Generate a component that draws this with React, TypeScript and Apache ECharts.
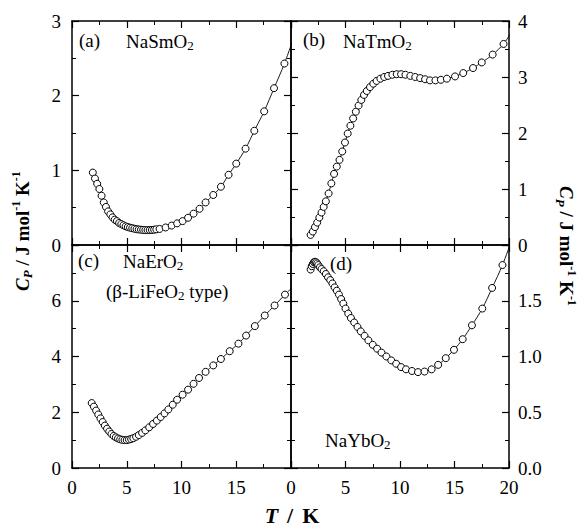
import React, { useEffect, useRef } from "react";
import * as echarts from "echarts";

// ---------- data ----------
const xTicks = [0, 5, 10, 15, 20];

// (a) NaSmO2
const aT = [1.9, 2.1, 2.3, 2.5, 2.7, 2.9, 3.1, 3.3, 3.5, 3.7, 3.9, 4.1, 4.3, 4.5, 4.7, 4.9, 5.1, 5.3, 5.5, 5.7, 5.9, 6.1, 6.3, 6.5, 6.7, 6.9, 7.1, 7.3, 7.5, 7.7,
  8.0, 8.55, 9.1, 9.6, 10.1, 10.6, 11.1, 11.65, 12.2, 12.9, 13.6, 14.3, 15.0, 15.85, 16.65, 17.55, 18.45, 19.4];
const aCp = [0.97, 0.89, 0.82, 0.75, 0.66, 0.57, 0.51, 0.45, 0.41, 0.37, 0.34, 0.32, 0.295, 0.28, 0.265, 0.25, 0.24, 0.232, 0.225, 0.218, 0.212, 0.208, 0.205, 0.202, 0.2, 0.2, 0.2, 0.202, 0.205, 0.21,
  0.215, 0.235, 0.26, 0.29, 0.32, 0.365, 0.42, 0.485, 0.57, 0.67, 0.78, 0.94, 1.09, 1.29, 1.53, 1.79, 2.10, 2.43];
const aFitEnd = [20.35, 2.82];

// (b) NaTmO2
const bT = [1.8, 2.0, 2.2, 2.4, 2.6, 2.8, 3.0, 3.2, 3.45, 3.7, 3.95, 4.2, 4.45, 4.7, 4.95, 5.2, 5.45, 5.7, 5.95, 6.2, 6.45, 6.7, 6.95, 7.25, 7.55, 7.85, 8.2, 8.55, 8.9, 9.3, 9.7,
  10.1, 10.5, 10.95, 11.4, 11.85, 12.3, 12.75, 13.25, 13.75, 14.3, 15.05, 15.8, 16.7, 17.5, 18.5, 19.5];
const bCp = [0.18, 0.24, 0.32, 0.40, 0.49, 0.58, 0.68, 0.78, 0.92, 1.10, 1.27, 1.40, 1.52, 1.67, 1.83, 1.99, 2.13, 2.26, 2.38, 2.49, 2.59, 2.68, 2.75, 2.82, 2.88, 2.93, 2.97, 3.0, 3.02, 3.04, 3.05,
  3.05, 3.04, 3.02, 3.0, 2.98, 2.96, 2.94, 2.94, 2.95, 2.97, 3.01, 3.07, 3.16, 3.26, 3.40, 3.59];
const bFitEnd = [20.15, 3.78];

// (c) NaErO2 (beta-LiFeO2 type)
const cT = [1.8, 2.0, 2.2, 2.4, 2.6, 2.8, 3.0, 3.2, 3.4, 3.6, 3.8, 4.0, 4.2, 4.4, 4.6, 4.8, 5.0, 5.2, 5.4, 5.6, 5.85, 6.1, 6.4, 6.7, 7.05, 7.4, 7.75, 8.1, 8.45, 8.8,
  9.2, 9.6, 10.1, 10.6, 11.1, 11.6, 12.2, 12.9, 13.6, 14.4, 15.2, 15.9, 16.7, 17.6, 18.5, 19.45];
const cCp = [2.33, 2.20, 2.06, 1.92, 1.78, 1.65, 1.52, 1.41, 1.31, 1.22, 1.15, 1.10, 1.06, 1.03, 1.01, 1.00, 1.00, 1.02, 1.04, 1.07, 1.12, 1.18, 1.26, 1.35, 1.46, 1.58, 1.70, 1.83, 1.96, 2.10,
  2.27, 2.45, 2.63, 2.81, 3.02, 3.23, 3.45, 3.68, 3.91, 4.19, 4.46, 4.75, 5.09, 5.47, 5.83, 6.22];
const cFitEnd = [20.3, 6.55];

// (d) NaYbO2
const dT = [1.8, 1.9, 2.0, 2.1, 2.2, 2.3, 2.4, 2.5, 2.65, 2.8, 3.0, 3.2, 3.4, 3.6, 3.8, 4.0, 4.2, 4.4, 4.6, 4.8, 5.0, 5.25, 5.5, 5.8, 6.1, 6.4, 6.75, 7.1, 7.5, 7.9, 8.3, 8.75,
  9.2, 9.65, 10.1, 10.55, 11.1, 11.65, 12.25, 12.9, 13.5, 14.2, 14.95, 15.75, 16.6, 17.55, 18.45, 19.4];
const dCp = [1.78, 1.81, 1.83, 1.845, 1.85, 1.845, 1.835, 1.82, 1.80, 1.785, 1.765, 1.74, 1.71, 1.685, 1.655, 1.62, 1.59, 1.555, 1.515, 1.475, 1.43, 1.385, 1.345, 1.305, 1.265, 1.225, 1.185, 1.145, 1.105, 1.07, 1.035, 1.0,
  0.965, 0.935, 0.905, 0.885, 0.87, 0.86, 0.865, 0.885, 0.925, 0.985, 1.06, 1.155, 1.28, 1.43, 1.615, 1.82];
const dFitEnd = [20.2, 2.03];

const yRanges = [
  { min: 0, max: 3, interval: 1 },
  { min: 0, max: 4, interval: 1 },
  { min: 0, max: 8, interval: 2 },
  { min: 0, max: 2, interval: 0.5 },
];

const FONT = "'Liberation Serif', 'Times New Roman', Times, serif";

function buildSeriesData(T: number[], Cp: number[], end: number[]) {
  const pts: any[] = T.map((t, i) => [t, Cp[i]]);
  pts.push({ value: end, symbol: "none" });
  return pts;
}

export default function App() {
  const ref = useRef<HTMLDivElement>(null);
  useEffect(() => {
    if (!ref.current) return;
    const chart = echarts.init(ref.current, null, { renderer: "svg" });

    const grids = [
      { left: 72, top: 21, width: 219, height: 224 },
      { left: 291, top: 21, width: 218, height: 224 },
      { left: 72, top: 245, width: 219, height: 223 },
      { left: 291, top: 245, width: 218, height: 223 },
    ];

    const lineStyle = { color: "#000", width: 1.5 };
    const labelBase = { color: "#000", fontFamily: FONT, fontSize: 19, fontWeight: "normal" };

    const xAxis: any[] = [];
    const yAxis: any[] = [];
    grids.forEach((_, i) => {
      const common = {
        type: "value",
        gridIndex: i,
        axisLine: { show: true, onZero: false, lineStyle },
        axisTick: { show: true, inside: true, length: 7, lineStyle: { color: "#000", width: 1.2 } },
        minorTick: { show: true, splitNumber: 2, length: 4, lineStyle: { color: "#000", width: 1 } },
        splitLine: { show: false },
        minorSplitLine: { show: false },
      };
      const bottomLabels = i >= 2;
      xAxis.push({
        ...common,
        position: "bottom",
        min: xTicks[0],
        max: xTicks[xTicks.length - 1],
        interval: 5,
        axisLabel: {
          ...labelBase,
          show: bottomLabels,
          margin: 10,
          showMaxLabel: i === 3,
          showMinLabel: true,
        },
      });
      xAxis.push({
        ...common,
        position: "top",
        min: xTicks[0],
        max: xTicks[xTicks.length - 1],
        interval: 5,
        axisLabel: { show: false },
      });
      const yr = yRanges[i];
      const leftLabels = i === 0 || i === 2;
      yAxis.push({
        ...common,
        position: "left",
        ...yr,
        axisLabel: {
          ...labelBase,
          show: leftLabels,
          margin: 11,
          showMaxLabel: i === 0,
        },
      });
      yAxis.push({
        ...common,
        position: "right",
        ...yr,
        axisLabel: {
          ...labelBase,
          show: !leftLabels,
          margin: 9,
          showMaxLabel: i === 1,
          formatter: i === 3 ? (v: number) => v.toFixed(1) : undefined,
        },
      });
    });

    const mk = (i: number, T: number[], Cp: number[], end: number[]) => ({
      type: "line",
      xAxisIndex: 2 * i,
      yAxisIndex: 2 * i,
      data: buildSeriesData(T, Cp, end),
      symbol: "circle",
      symbolSize: 7,
      smooth: 0.3,
      clip: false,
      lineStyle: { color: "#000", width: 0.9 },
      itemStyle: { color: "#fff", borderColor: "#000", borderWidth: 1 },
      emphasis: { disabled: true },
      z: 3,
    });

    const subRich = {
      n: { fontFamily: FONT, fontSize: 19, fontWeight: "normal", lineHeight: 22, fill: "#000" },
      s: { fontFamily: FONT, fontSize: 13, fontWeight: "normal", lineHeight: 13, verticalAlign: "bottom", fill: "#000" },
    };
    const txt = (x: number, y: number, text: string) => ({
      type: "text",
      x,
      y,
      style: { text, rich: subRich, fontFamily: FONT, fontSize: 19, fill: "#000", verticalAlign: "middle", align: "left" },
      z: 10,
    });

    const titleRich = {
      i: { fontFamily: FONT, fontSize: 19, fontWeight: "bold", fontStyle: "italic", lineHeight: 24, fill: "#000" },
      is: { fontFamily: FONT, fontSize: 13, fontWeight: "bold", fontStyle: "italic", lineHeight: 13, verticalAlign: "bottom", fill: "#000" },
      b: { fontFamily: FONT, fontSize: 19, fontWeight: "bold", lineHeight: 24, fill: "#000" },
      sup: { fontFamily: FONT, fontSize: 12, fontWeight: "bold", lineHeight: 12, verticalAlign: "top", fill: "#000" },
    };
    const tRich = {
      i: { fontFamily: FONT, fontSize: 22, fontWeight: "bold", fontStyle: "italic", lineHeight: 26, fill: "#000" },
      s: { fontFamily: FONT, fontSize: 22, fontWeight: "bold", lineHeight: 26, padding: [0, 9, 0, 9], fill: "#000" },
      b: { fontFamily: FONT, fontSize: 22, fontWeight: "bold", lineHeight: 26, fill: "#000" },
    };
    const yTitle = "{i|C}{is|P}{b| / J mol}{sup|-1}{b| K}{sup|-1}";

    chart.setOption({
      animation: false,
      backgroundColor: "#fff",
      textStyle: { fontFamily: FONT },
      grid: grids,
      xAxis,
      yAxis,
      series: [
        mk(0, aT, aCp, aFitEnd),
        mk(1, bT, bCp, bFitEnd),
        mk(2, cT, cCp, cFitEnd),
        mk(3, dT, dCp, dFitEnd),
      ],
      graphic: [
        txt(79, 40, "{n|(a)}"),
        txt(126, 41, "{n|NaSmO}{s|2}"),
        txt(303, 39, "{n|(b)}"),
        txt(343, 41, "{n|NaTmO}{s|2}"),
        txt(78, 260, "{n|(c)}"),
        txt(123, 261, "{n|NaErO}{s|2}"),
        txt(106, 291, "{n|(β-LiFeO}{s|2}{n| type)}"),
        txt(330, 263, "{n|(d)}"),
        txt(325, 440, "{n|NaYbO}{s|2}"),
        {
          type: "text",
          x: 22,
          y: 231,
          rotation: Math.PI / 2,
          style: { text: yTitle, rich: titleRich, align: "center", verticalAlign: "middle", fontFamily: FONT, fontSize: 19 },
          z: 10,
        },
        {
          type: "text",
          x: 566,
          y: 246,
          rotation: -Math.PI / 2,
          style: { text: yTitle, rich: titleRich, align: "center", verticalAlign: "middle", fontFamily: FONT, fontSize: 19 },
          z: 10,
        },
        {
          type: "text",
          x: 292,
          y: 515,
          style: { text: "{i|T}{s|/}{b|K}", rich: tRich, align: "center", verticalAlign: "middle", fontFamily: FONT, fontSize: 22 },
          z: 10,
        },
      ],
    });
    return () => chart.dispose();
  }, []);
  return <div ref={ref} style={{ position: "absolute", left: 0, top: 0, width: 584, height: 526, background: "#fff" }} />;
}
